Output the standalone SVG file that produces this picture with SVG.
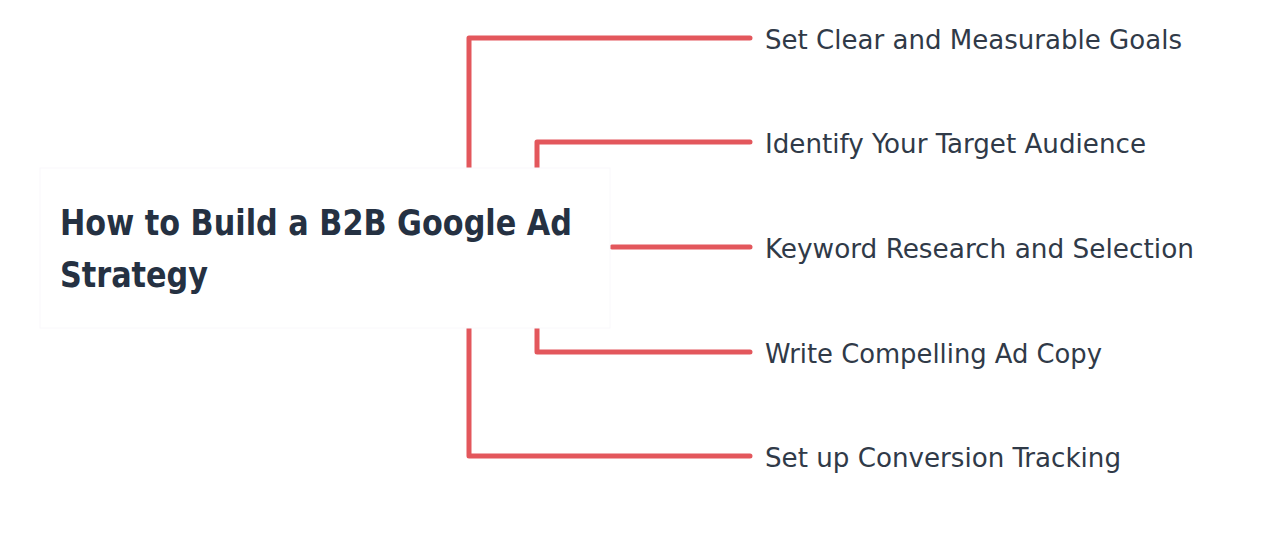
<svg xmlns="http://www.w3.org/2000/svg" width="1264" height="536" viewBox="0 0 1264 536">
<style>
.c{fill:none;stroke:#e3575c;stroke-width:5;stroke-linecap:round;stroke-linejoin:round}
.lbl{font-family:"DejaVu Sans Condensed","DejaVu Sans",sans-serif;font-size:26px;fill:#303a48}
.ttl{font-family:"DejaVu Sans Condensed","DejaVu Sans",sans-serif;font-size:36px;font-weight:bold;fill:#253142}
</style>
<rect width="1264" height="536" fill="#ffffff"/>
<g id="connectors">
<path class="c" d="M469 172 V38 H750"/>
<path class="c" d="M537 172 V142 H750"/>
<path class="c" d="M612 247 H750"/>
<path class="c" d="M537 324 V352 H750"/>
<path class="c" d="M469 324 V456 H750"/>
</g>
<g id="root">
<rect x="40" y="168" width="570" height="160" fill="#ffffff" stroke="#f9f8fb" stroke-width="1"/>
<text class="ttl" x="60" y="235" textLength="512" lengthAdjust="spacingAndGlyphs">How to Build a B2B Google Ad</text>
<text class="ttl" x="60" y="287" textLength="148" lengthAdjust="spacingAndGlyphs">Strategy</text>
</g>
<g id="n1"><text class="lbl" x="765" y="49" textLength="417" lengthAdjust="spacingAndGlyphs">Set Clear and Measurable Goals</text></g>
<g id="n2"><text class="lbl" x="765" y="153" textLength="381" lengthAdjust="spacingAndGlyphs">Identify Your Target Audience</text></g>
<g id="n3"><text class="lbl" x="765" y="258" textLength="429" lengthAdjust="spacingAndGlyphs">Keyword Research and Selection</text></g>
<g id="n4"><text class="lbl" x="765" y="363" textLength="337" lengthAdjust="spacingAndGlyphs">Write Compelling Ad Copy</text></g>
<g id="n5"><text class="lbl" x="765" y="467" textLength="356" lengthAdjust="spacingAndGlyphs">Set up Conversion Tracking</text></g>
</svg>
